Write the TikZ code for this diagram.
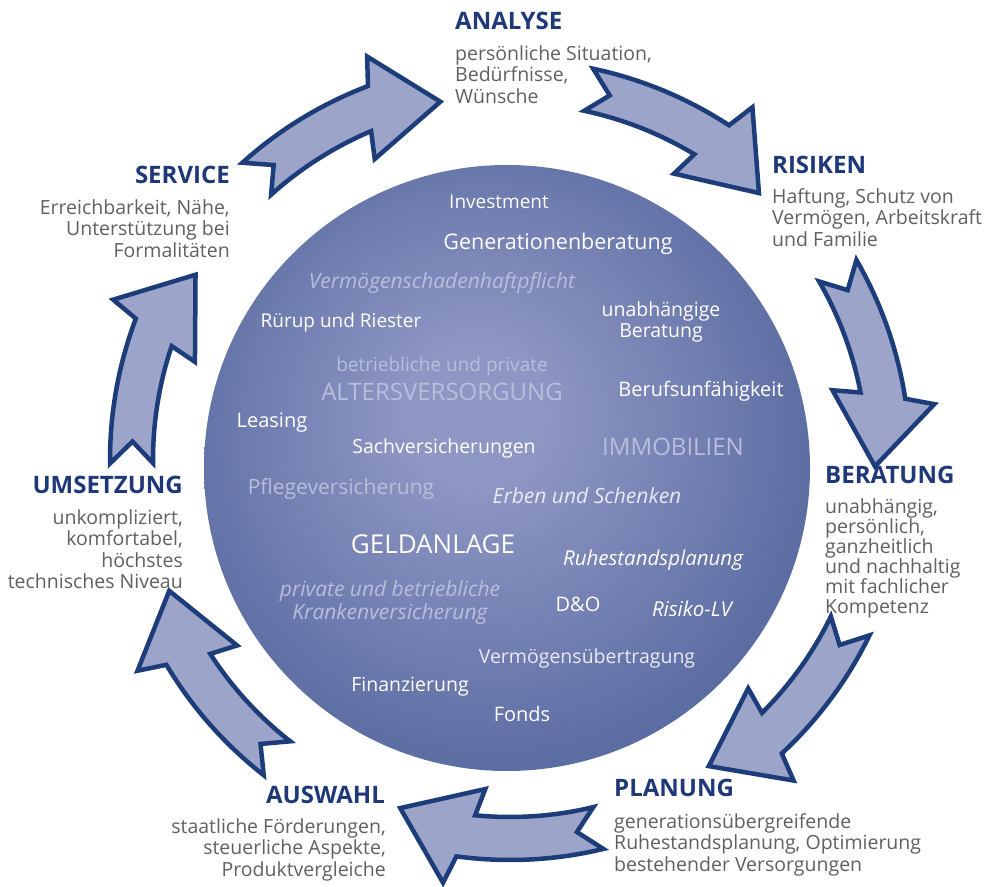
\documentclass[tikz,border=0pt]{standalone}
\usepackage{fontspec}
\setmainfont{Open Sans}
\usepackage{tikz}

\definecolor{stageblue}{RGB}{30,56,120}
\definecolor{stagegray}{RGB}{96,96,96}
\definecolor{ringline}{RGB}{28,60,122}
\definecolor{ringfill}{RGB}{156,165,201}
\definecolor{disclight}{RGB}{142,150,195}
\definecolor{discdark}{RGB}{66,88,146}
\definecolor{topiclight}{RGB}{184,190,220}
\definecolor{topicwhite}{RGB}{232,234,244}

% shading for the big disc, lighter a little above the middle
\pgfdeclareradialshading{discshade}{\pgfpoint{-3bp}{5bp}}{%
  color(0bp)=(disclight); color(6bp)=(disclight);
  color(38bp)=(discdark); color(50bp)=(discdark)}

\begin{document}
\begin{tikzpicture}[
    x=1pt, y=1pt,
    stage/.style={font=\fontsize{24}{28}\selectfont\bfseries, text=stageblue, inner sep=0pt},
    stagetext/.style={font=\fontsize{19.5}{21.5}\selectfont, text=stagegray, inner sep=0pt},
    topic/.style={font=\fontsize{20}{22}\selectfont, text=white, inner sep=0pt, align=center},
    topicit/.style={topic, font=\fontsize{21}{23}\selectfont\itshape},
    topicsoft/.style={topic, text=topiclight},
    bigtopic/.style={topic, font=\fontsize{24}{28}\selectfont},
    cyclearrow/.style={draw=ringline, fill=ringfill, line width=4.5pt, line join=miter}
]

\path[use as bounding box, fill=white] (0,0) rectangle (993,886);

% Define disc
\node[circle, minimum size=606pt, inner sep=0pt, shading=discshade] (disc) at (507,418) {};

% Define arrows
\begin{scope}[shift={(510,426)}]
\foreach \t in {132,78,30,-26,-76.5,-128,-179.5}
  \draw[cyclearrow] ({\t}:400pt) arc[start angle=\t, end angle=\t-21.2, radius=400pt]
    -- ({\t-22.5}:428pt) -- ({\t-31}:365pt) -- ({\t-17.8}:330pt) -- ({\t-19.1}:357pt)
    arc[start angle=\t-19.1, end angle=\t, radius=357pt]
    -- ({\t-3.3}:378pt) -- cycle;
\end{scope}

% Define stages
\node[stage, anchor=west] (analyse) at (455,865) {ANALYSE};
\node[stagetext, anchor=north west, align=left] (analyse-text) at (455,841)
  {persönliche Situation,\\Bedürfnisse,\\Wünsche};

\node[stage, anchor=west] (risiken) at (772,721) {RISIKEN};
\node[stagetext, anchor=north west, align=left] (risiken-text) at (772,698)
  {Haftung, Schutz von\\Vermögen, Arbeitskraft\\und Familie};

\node[stage, anchor=west] (beratung) at (825,411) {BERATUNG};
\node[stagetext, anchor=north west, align=left, font=\fontsize{19.5}{20}\selectfont] (beratung-text) at (825,388)
  {unabhängig,\\persönlich,\\ganzheitlich\\und nachhaltig\\mit fachlicher\\Kompetenz};

\node[stage, anchor=west] (planung) at (614,98) {PLANUNG};
\node[stagetext, anchor=north west, align=left] (planung-text) at (614,73)
  {generationsübergreifende\\Ruhestandsplanung, Optimierung\\bestehender Versorgungen};

\node[stage, anchor=east] (auswahl) at (385,91) {AUSWAHL};
\node[stagetext, anchor=north east, align=right] (auswahl-text) at (386,68)
  {staatliche Förderungen,\\steuerliche Aspekte,\\Produktvergleiche};

\node[stage, anchor=east] (umsetzung) at (183,401) {UMSETZUNG};
\node[stagetext, anchor=north east, align=right] (umsetzung-text) at (183,377)
  {unkompliziert,\\komfortabel,\\höchstes\\technisches Niveau};

\node[stage, anchor=east] (service) at (230,711) {SERVICE};
\node[stagetext, anchor=north east, align=right] (service-text) at (230,687)
  {Erreichbarkeit, Nähe,\\Unterstützung bei\\Formalitäten};

% Define topics on the disc
\node[topic, font=\fontsize{19}{21}\selectfont] (investment) at (499,684) {Investment};
\node[topic, font=\fontsize{21.5}{24}\selectfont] (generation) at (558,642) {Generationenberatung};
\node[topicit, text=topiclight] (vsh) at (442,603) {Vermögenschadenhaftpflicht};
\node[topic, font=\fontsize{19}{21}\selectfont] (ruerup) at (341,563) {Rürup und Riester};
\node[topic, font=\fontsize{19.5}{21}\selectfont] (unabh) at (661,564) {unabhängige\\Beratung};
\node[topicsoft, font=\fontsize{19}{21}\selectfont] (bav) at (442,519) {betriebliche und private};
\node[bigtopic, text=topiclight] (alter) at (442,494) {ALTERSVERSORGUNG};
\node[topic] (bu) at (701,495) {Berufsunfähigkeit};
\node[topic] (leasing) at (272,463) {Leasing};
\node[topic, font=\fontsize{19.5}{21}\selectfont] (sach) at (444,438) {Sachversicherungen};
\node[bigtopic, text=topiclight] (immo) at (673,439) {IMMOBILIEN};
\node[topicsoft, font=\fontsize{21}{23}\selectfont] (pflege) at (341,397) {Pflegeversicherung};
\node[topicit, text=topicwhite] (erben) at (587,390) {Erben und Schenken};
\node[bigtopic, font=\fontsize{26}{30}\selectfont] (geld) at (433,342) {GELDANLAGE};
\node[topicit, font=\fontsize{20.5}{23}\selectfont\itshape] (ruhe) at (653,326) {Ruhestandsplanung};
\node[topicit, text=topiclight] (kranken) at (390,283) {private und betriebliche\\Krankenversicherung};
\node[topic] (dando) at (578,282) {D\&O};
\node[topicit, font=\fontsize{20.5}{23}\selectfont\itshape] (risiko) at (692,277) {Risiko-LV};
\node[topic, text=topicwhite, font=\fontsize{19.5}{21}\selectfont] (uebertrag) at (587,228) {Vermögensübertragung};
\node[topic, font=\fontsize{19.5}{21}\selectfont] (finanz) at (410,199) {Finanzierung};
\node[topic] (fonds) at (522,172) {Fonds};

\end{tikzpicture}
\end{document}
